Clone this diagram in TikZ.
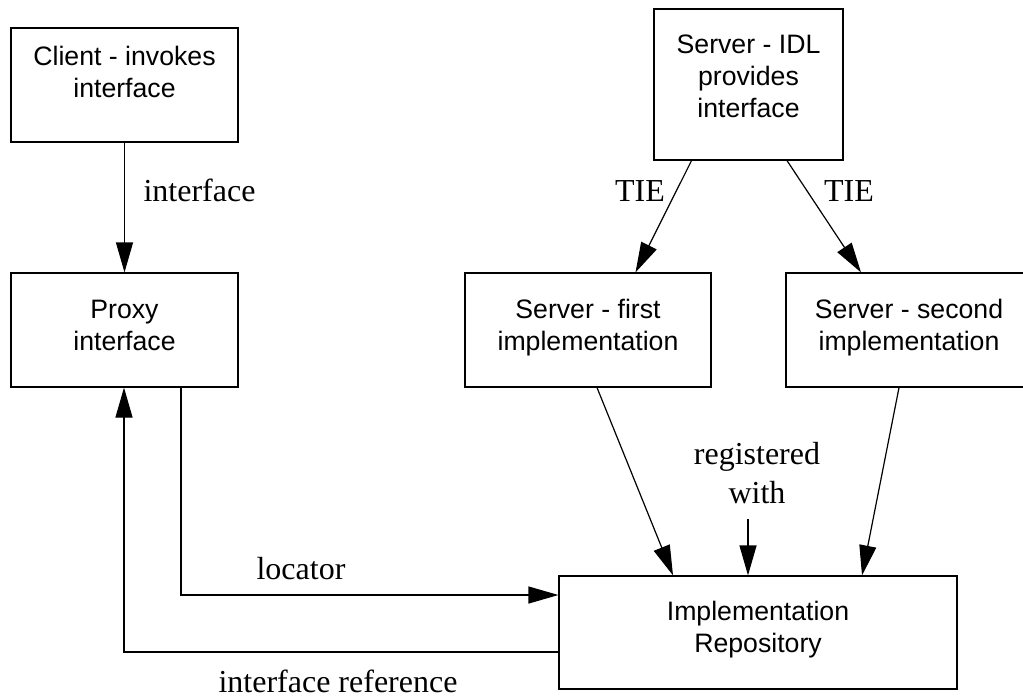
\documentclass[tikz,border=0pt]{standalone}
\usepackage{fontspec}
\setmainfont{Liberation Serif}
\setsansfont{Liberation Sans}
\usetikzlibrary{arrows.meta,calc}
\tikzset{
  box/.style={draw, line width=0.9pt, inner sep=0pt},
  btxt/.style={font=\sffamily\fontsize{20}{24}\selectfont, align=center, anchor=base, inner sep=0pt},
  lbl/.style={font=\rmfamily\fontsize{24}{28.8}\selectfont, align=center, anchor=base, inner sep=0pt},
  arr/.style={line width=0.9pt, -{Triangle[length=22.5pt,width=12.75pt]}}
}
\begin{document}
\begin{tikzpicture}[x=0.75pt,y=-0.75pt]
\useasboundingbox (0,0) rectangle (1023,697);
% boxes
\node[box, minimum width=170.25pt, minimum height=85.5pt] (client) at (124.5,85) {};
\node[box, minimum width=170.25pt, minimum height=85.5pt] (proxy) at (124.5,330) {};
\node[box, minimum width=141.75pt, minimum height=113.25pt] (idl) at (748.5,84.5) {};
\node[box, minimum width=184.5pt, minimum height=85.5pt] (first) at (588,330) {};
\node[box, minimum width=184.5pt, minimum height=85.5pt] (second) at (909,330) {};
\node[box, minimum width=298.5pt, minimum height=84.75pt] (repo) at (758,632.5) {};
% box texts (base = last line baseline)
\node[btxt] (clientT) at (124.5,97) {Client - invokes\\interface};
\node[btxt] (proxyT) at (124.5,350) {Proxy\\interface};
\node[btxt] (idlT) at (748.5,117) {Server - IDL\\provides\\interface};
\node[btxt] (firstT) at (588,350) {Server - first\\implementation};
\node[btxt] (secondT) at (909,350) {Server - second\\implementation};
\node[btxt] (repoT) at (758,652) {Implementation\\Repository};
% labels
\node[lbl] (lint) at (199.5,201) {interface};
\node[lbl] (ltie1) at (640,201) {TIE};
\node[lbl] (ltie2) at (849,201) {TIE};
\node[lbl] (lreg) at (757,503) {registered\\with};
\node[lbl] (lloc) at (301,579) {locator};
\node[lbl] (lref) at (338,692) {interface reference};
% connectors
\draw[arr] (client.south) -- (proxy.north);
\draw[arr] ($(idl.south)+(-57,0)$) -- ($(first.north)+(47.5,0)$);
\draw[arr] ($(idl.south)+(38.5,0)$) -- ($(second.north)+(-48,0)$);
\draw[arr] ($(first.south)+(9,0)$) -- ($(repo.north)+(-85,0)$);
\draw[arr] ($(second.south)+(-10,0)$) -- ($(repo.north)+(104,0)$);
\coordinate (reg) at (748,519);
\draw[arr] (reg) -- (reg |- repo.north);
\draw[arr] ($(proxy.south)+(56.5,0)$) |- ($(repo.west)+(0,-37.5)$);
\draw[arr] ($(repo.west)+(0,19.5)$) -| ($(proxy.south)+(-0.5,0)$);
\end{tikzpicture}
\end{document}
